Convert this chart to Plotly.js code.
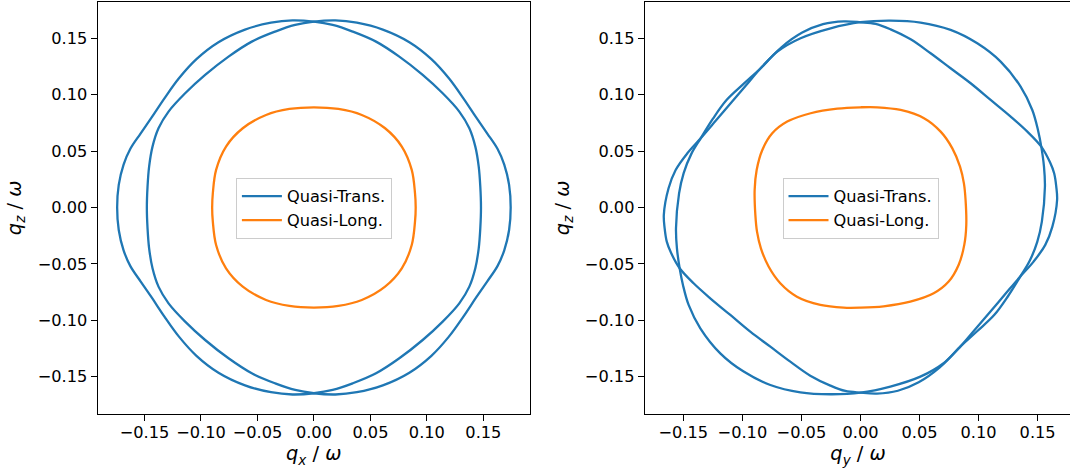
<!DOCTYPE html>
<html>
<head>
<meta charset="utf-8">
<script src="https://cdn.plot.ly/plotly-3.0.1.min.js"></script>
<style>
html,body{margin:0;padding:0;overflow:hidden;background:#fff;}
#plot{width:1074px;height:476px;}
</style>
</head>
<body>
<div id="plot"></div>
<script>
// ---------- Left panel (qx - qz) ----------
const leftQT1_x = [0.1742,0.1728,0.1685,0.1625,0.1535,0.1435,0.1325,0.1195,0.1040,0.0845,0.0610,0.0380,0.0190,0.0000,-0.0166,-0.0343,-0.0550,-0.0756,-0.0963,-0.1140,-0.1287,-0.1376,-0.1429,-0.1459,-0.1473,-0.1479,
  -0.1473,-0.1459,-0.1429,-0.1376,-0.1287,-0.1140,-0.0963,-0.0756,-0.0550,-0.0343,-0.0166,0.0000,0.0190,0.0380,0.0610,0.0845,0.1040,0.1195,0.1325,0.1435,0.1535,0.1625,0.1685,0.1728,0.1742];
const leftQT1_y = [0.0000,0.0200,0.0380,0.0520,0.0655,0.0800,0.0965,0.1145,0.1315,0.1465,0.1577,0.1638,0.1658,0.1647,0.1618,0.1559,0.1470,0.1337,0.1175,0.1012,0.0850,0.0702,0.0539,0.0362,0.0185,0.0000,
  -0.0185,-0.0362,-0.0539,-0.0702,-0.0850,-0.1012,-0.1175,-0.1337,-0.1470,-0.1559,-0.1618,-0.1647,-0.1658,-0.1638,-0.1577,-0.1465,-0.1315,-0.1145,-0.0965,-0.0800,-0.0655,-0.0520,-0.0380,-0.0200,0.0000];
const leftQT2_x = [-0.1742,-0.1728,-0.1685,-0.1625,-0.1535,-0.1435,-0.1325,-0.1195,-0.1040,-0.0845,-0.0610,-0.0380,-0.0190,0.0000,0.0166,0.0343,0.0550,0.0756,0.0963,0.1140,0.1287,0.1376,0.1429,0.1459,0.1473,0.1479,
  0.1473,0.1459,0.1429,0.1376,0.1287,0.1140,0.0963,0.0756,0.0550,0.0343,0.0166,0.0000,-0.0190,-0.0380,-0.0610,-0.0845,-0.1040,-0.1195,-0.1325,-0.1435,-0.1535,-0.1625,-0.1685,-0.1728,-0.1742];
const leftQT2_y = [0.0000,0.0200,0.0380,0.0520,0.0655,0.0800,0.0965,0.1145,0.1315,0.1465,0.1577,0.1638,0.1658,0.1647,0.1618,0.1559,0.1470,0.1337,0.1175,0.1012,0.0850,0.0702,0.0539,0.0362,0.0185,0.0000,
  -0.0185,-0.0362,-0.0539,-0.0702,-0.0850,-0.1012,-0.1175,-0.1337,-0.1470,-0.1559,-0.1618,-0.1647,-0.1658,-0.1638,-0.1577,-0.1465,-0.1315,-0.1145,-0.0965,-0.0800,-0.0655,-0.0520,-0.0380,-0.0200,0.0000];
const leftQL_x = [0.0901,0.0895,0.0866,0.0778,0.0630,0.0424,0.0217,0.0000,-0.0217,-0.0424,-0.0630,-0.0778,-0.0866,-0.0895,-0.0901,
  -0.0895,-0.0866,-0.0778,-0.0630,-0.0424,-0.0217,0.0000,0.0217,0.0424,0.0630,0.0778,0.0866,0.0895,0.0901];
const leftQL_y = [0.0000,0.0126,0.0333,0.0540,0.0702,0.0820,0.0873,0.0888,0.0873,0.0820,0.0702,0.0540,0.0333,0.0126,0.0000,
  -0.0126,-0.0333,-0.0540,-0.0702,-0.0820,-0.0873,-0.0888,-0.0873,-0.0820,-0.0702,-0.0540,-0.0333,-0.0126,0.0000];

// ---------- Right panel (qy - qz) ----------
const rightQT1_x = [0.1562,0.1554,0.1531,0.1503,0.1455,0.1356,0.1187,0.0989,0.0763,0.0509,0.0255,0.0000,-0.0253,-0.0507,-0.0704,-0.0845,-0.0990,-0.1134,-0.1249,-0.1353,-0.1432,-0.1497,-0.1536,
  -0.1562,-0.1554,-0.1531,-0.1503,-0.1455,-0.1356,-0.1187,-0.0989,-0.0763,-0.0509,-0.0255,0.0000,0.0253,0.0507,0.0704,0.0845,0.0990,0.1134,0.1249,0.1353,0.1432,0.1497,0.1536,0.1562];
const rightQT1_y = [0.0185,0.0362,0.0539,0.0687,0.0864,0.1071,0.1293,0.1455,0.1574,0.1639,0.1656,0.1642,0.1588,0.1500,0.1381,0.1234,0.1095,0.0952,0.0787,0.0613,0.0475,0.0305,0.0125,
  -0.0185,-0.0362,-0.0539,-0.0687,-0.0864,-0.1071,-0.1293,-0.1455,-0.1574,-0.1639,-0.1656,-0.1642,-0.1588,-0.1500,-0.1381,-0.1234,-0.1095,-0.0952,-0.0787,-0.0613,-0.0475,-0.0305,-0.0125,0.0185];
const rightQT2_x = [0.1665,0.1658,0.1640,0.1605,0.1531,0.1413,0.1272,0.1102,0.0933,0.0763,0.0594,0.0425,0.0255,0.0128,0.0000,-0.0140,-0.0317,-0.0493,-0.0669,-0.0845,-0.0972,-0.1099,-0.1226,-0.1353,-0.1466,-0.1565,-0.1625,
  -0.1665,-0.1658,-0.1640,-0.1605,-0.1531,-0.1413,-0.1272,-0.1102,-0.0933,-0.0763,-0.0594,-0.0425,-0.0255,-0.0128,0.0000,0.0140,0.0317,0.0493,0.0669,0.0845,0.0972,0.1099,0.1226,0.1353,0.1466,0.1565,0.1625,0.1665];
const rightQT2_y = [0.0066,0.0185,0.0303,0.0400,0.0539,0.0672,0.0805,0.0953,0.1101,0.1234,0.1367,0.1491,0.1579,0.1627,0.1642,0.1650,0.1625,0.1550,0.1420,0.1234,0.1079,0.0924,0.0768,0.0613,0.0480,0.0332,0.0170,
  -0.0066,-0.0185,-0.0303,-0.0400,-0.0539,-0.0672,-0.0805,-0.0953,-0.1101,-0.1234,-0.1367,-0.1491,-0.1579,-0.1627,-0.1642,-0.1650,-0.1625,-0.1550,-0.1420,-0.1234,-0.1079,-0.0924,-0.0768,-0.0613,-0.0480,-0.0332,-0.0170,0.0066];
const rightQL_x = [0.0890,0.0876,0.0843,0.0778,0.0679,0.0538,0.0340,0.0143,0.0000,-0.0196,-0.0422,-0.0620,-0.0747,-0.0831,-0.0879,-0.0896,
  -0.0890,-0.0876,-0.0843,-0.0778,-0.0679,-0.0538,-0.0340,-0.0143,0.0000,0.0196,0.0422,0.0620,0.0747,0.0831,0.0879,0.0896,0.0890];
const rightQL_y = [0.0066,0.0214,0.0362,0.0524,0.0672,0.0791,0.0864,0.0888,0.0888,0.0876,0.0835,0.0761,0.0657,0.0510,0.0332,0.0155,
  -0.0066,-0.0214,-0.0362,-0.0524,-0.0672,-0.0791,-0.0864,-0.0888,-0.0888,-0.0876,-0.0835,-0.0761,-0.0657,-0.0510,-0.0332,-0.0155,0.0066];

const tickVals = [-0.15,-0.10,-0.05,0.00,0.05,0.10,0.15];
const tickText = ["\u22120.15","\u22120.10","\u22120.05","0.00","0.05","0.10","0.15"];
const nameQT = "Quasi-Trans.";
const nameQL = "Quasi-Long.";

const blue = "#1f77b4", orange = "#ff7f0e";
const W = 1074, H = 476;
function ln(c){ return {color:c, width:2.3, shape:"spline", smoothing:1}; }

const traces = [
  {x:leftQT1_x, y:leftQT1_y, xaxis:"x", yaxis:"y", mode:"lines", line:ln(blue), name:nameQT, legend:"legend", legendgroup:"qt"},
  {x:leftQT2_x, y:leftQT2_y, xaxis:"x", yaxis:"y", mode:"lines", line:ln(blue), name:nameQT, showlegend:false, legend:"legend", legendgroup:"qt"},
  {x:leftQL_x, y:leftQL_y, xaxis:"x", yaxis:"y", mode:"lines", line:ln(orange), name:nameQL, legend:"legend", legendgroup:"ql"},
  {x:rightQT1_x, y:rightQT1_y, xaxis:"x2", yaxis:"y2", mode:"lines", line:ln(blue), name:nameQT, legend:"legend2", legendgroup:"qt2"},
  {x:rightQT2_x, y:rightQT2_y, xaxis:"x2", yaxis:"y2", mode:"lines", line:ln(blue), name:nameQT, showlegend:false, legend:"legend2", legendgroup:"qt2"},
  {x:rightQL_x, y:rightQL_y, xaxis:"x2", yaxis:"y2", mode:"lines", line:ln(orange), name:nameQL, legend:"legend2", legendgroup:"ql2"}
];

const font = {family:"DejaVu Sans", size:16.2, color:"#000"};
function ax(extra){
  return Object.assign({
    showline:true, mirror:true, linecolor:"#000", linewidth:1,
    ticks:"outside", ticklen:6, tickwidth:1, tickcolor:"#000",
    tickvals:tickVals, ticktext:tickText, tickfont:font,
    showgrid:false, zeroline:false, fixedrange:true
  }, extra);
}
const ydom = [(H-414)/H, (H-1.7)/H];
const titleFont = {family:"DejaVu Sans", size:19.4, color:"#000"};
const legendBase = {
  y:(H-208.5)/H, xanchor:"center", yanchor:"middle",
  bgcolor:"rgba(255,255,255,0.8)", bordercolor:"#cccccc", borderwidth:1,
  font:font, tracegroupgap:0, itemwidth:40
};

const layout = {
  width:W, height:H,
  margin:{l:0,r:0,t:0,b:0},
  paper_bgcolor:"#fff", plot_bgcolor:"#fff",
  xaxis: ax({domain:[97.5/W, 530/W], range:[-0.1916,0.1913], anchor:"y", ticklabelstandoff:-2,
    title:{text:"<i>q</i><sub><i>x</i></sub> / <i>ω</i>", font:titleFont, standoff:3}}),
  yaxis: ax({domain:ydom, range:[-0.1831,0.1824], anchor:"x",
    title:{text:"<i>q</i><sub><i>z</i></sub> / <i>ω</i>", font:titleFont, standoff:10}}),
  xaxis2: ax({domain:[644.7/W, 1071.5/W], range:[-0.1827,0.1787], anchor:"y2", ticklabelstandoff:-2,
    title:{text:"<i>q</i><sub><i>y</i></sub> / <i>ω</i>", font:titleFont, standoff:3}}),
  yaxis2: ax({domain:ydom, range:[-0.1831,0.1824], anchor:"x2",
    title:{text:"<i>q</i><sub><i>z</i></sub> / <i>ω</i>", font:titleFont, standoff:10}}),
  legend: Object.assign({x:313.9/W}, legendBase),
  legend2: Object.assign({x:860.5/W}, legendBase),
  showlegend:true
};

Plotly.newPlot("plot", traces, layout, {displayModeBar:false, staticPlot:true});
</script>
</body>
</html>
